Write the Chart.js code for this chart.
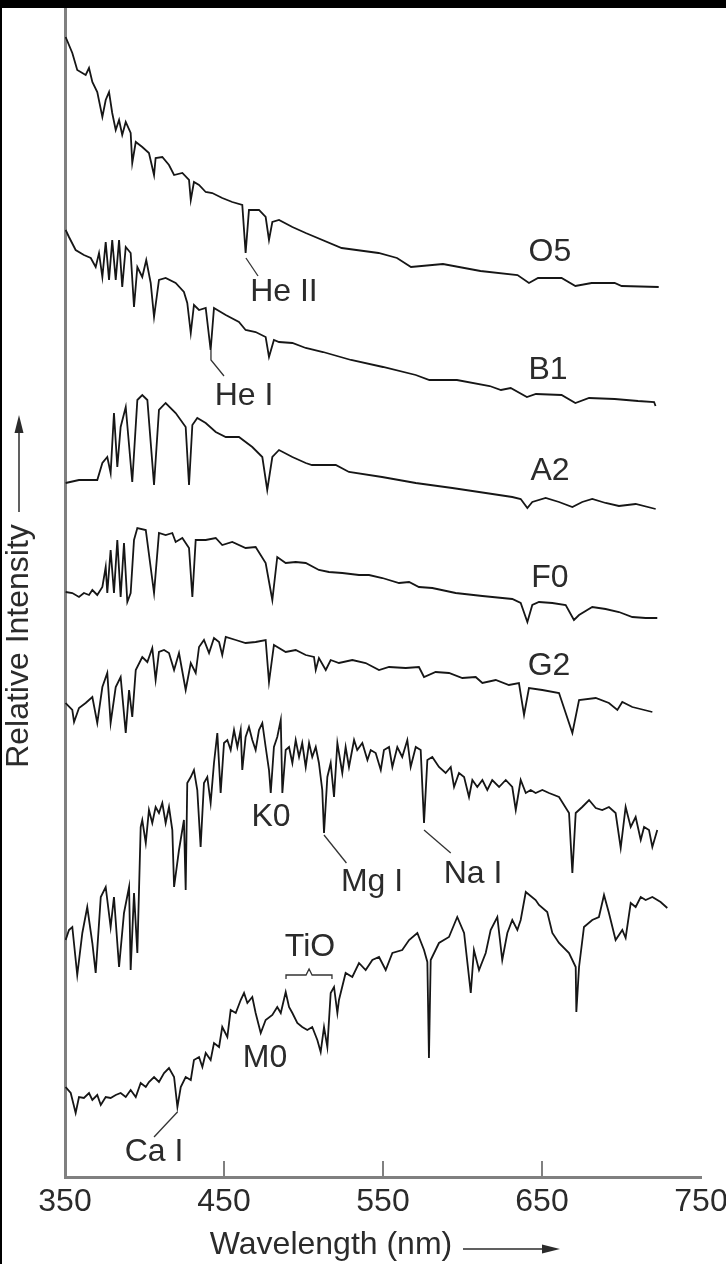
<!DOCTYPE html>
<html>
<head>
<meta charset="utf-8">
<title>Stellar spectra by spectral class</title>
<script src="https://cdn.jsdelivr.net/npm/chart.js@4.4.1/dist/chart.umd.min.js"></script>
<style>
  html, body { margin: 0; padding: 0; background: #000; }
  #frame { position: absolute; left: 2px; top: 8px; width: 724px; height: 1256px; background: #fff; }
  #chart { display: block; }
</style>
</head>
<body>
<div id="frame"><canvas id="chart" width="724" height="1256"></canvas></div>
<script>
// Spectra: wavelength (nm) and relative intensity (arbitrary, stacked offsets)
const o5Wave = [350.4,354.6,357.7,363.0,365.1,367.2,370.3,373.5,375.6,377.7,379.7,381.9,384.0,386.0,388.2,391.3,392.3,394.5,398.6,402.8,406.0,407.0,411.2,415.4,418.6,423.8,428.0,429.1,431.1,434.3,438.5,442.6,448.9,455.2,461.5,463.6,465.7,472.0,476.2,478.3,480.4,484.6,493.0,501.4,524.0,547.2,558.8,567.6,587.7,611.3,634.6,641.8,647.5,662.3,671.0,681.2,695.7,700.1,723.4];
const o5Flux = [114.0,112.4,110.7,110.2,110.9,109.5,108.5,106.0,107.7,108.5,106.4,104.7,105.7,104.2,105.5,104.4,101.4,103.5,103.0,102.4,100.2,101.9,102.0,101.2,100.2,100.4,99.7,97.7,99.5,99.2,98.5,98.4,97.9,97.5,97.2,92.4,96.7,96.7,96.0,93.7,95.5,95.7,95.0,94.4,92.9,92.4,91.9,91.0,91.3,90.6,90.2,89.4,89.9,89.9,89.1,89.4,89.4,89.1,89.0];

const b1Wave = [350.4,352.5,356.7,361.9,366.2,369.3,371.4,373.5,375.6,377.7,379.7,381.9,384.0,386.0,388.2,391.3,393.4,395.5,398.6,401.1,403.9,406.0,409.1,413.3,419.6,424.8,426.9,429.1,431.1,434.3,438.5,441.6,443.7,451.1,459.4,463.6,469.9,476.2,478.3,481.4,484.6,493.0,501.4,512.3,529.9,550.0,570.6,579.2,596.5,617.1,624.2,630.3,640.5,646.2,662.3,671.0,679.6,695.7,710.4,720.5,721.4];
const b1Flux = [94.7,94.0,92.7,92.2,91.9,91.0,92.4,90.0,93.5,89.7,93.7,89.7,93.7,89.0,93.0,92.4,87.0,91.0,90.0,91.7,89.4,86.0,89.7,89.9,89.4,88.5,87.4,84.4,87.2,86.7,86.9,82.7,86.9,86.2,85.5,84.7,84.5,84.0,82.0,83.7,83.5,83.4,82.9,82.5,81.7,81.0,80.2,79.7,79.7,79.1,78.7,78.9,78.0,78.3,78.2,77.4,77.9,77.8,77.6,77.5,77.1];

const a2Wave = [350.4,358.8,370.3,373.5,376.6,378.7,380.8,382.9,385.0,388.2,392.3,395.5,398.6,401.8,406.0,409.1,413.3,419.6,425.9,428.0,430.1,433.2,438.5,444.8,451.1,459.4,467.8,474.1,477.2,480.4,484.6,493.0,501.4,505.3,520.3,528.6,549.4,570.6,593.6,614.6,631.3,636.6,640.8,643.9,652.3,660.7,669.1,675.3,681.6,690.0,698.4,708.9,721.5];
const a2Flux = [69.4,69.7,69.7,71.4,72.0,70.4,76.4,71.0,75.0,77.0,69.5,77.7,78.2,77.7,69.2,76.7,77.4,76.4,75.0,69.2,75.2,75.9,75.4,74.5,74.0,74.0,73.0,72.0,68.7,72.0,72.7,72.0,71.4,71.2,71.2,70.5,70.0,69.4,68.9,68.4,68.0,67.8,66.9,67.5,67.9,67.5,67.0,67.5,67.8,67.4,67.1,67.3,66.8];

const f0Wave = [350.4,354.6,358.8,361.9,365.1,367.2,370.3,373.5,375.6,376.6,378.7,380.8,382.9,385.0,387.1,389.2,391.3,393.4,395.5,400.8,406.0,409.1,413.3,417.5,419.6,423.8,428.0,430.1,432.2,438.5,444.8,448.9,455.2,463.6,469.9,476.2,480.4,483.5,488.8,495.1,501.4,509.7,516.0,524.4,534.9,541.2,549.6,560.1,566.4,572.6,581.0,595.7,612.5,631.3,636.6,640.8,643.9,648.1,656.5,664.9,670.1,673.3,681.6,690.0,698.4,706.8,715.2,722.5];
const f0Flux = [58.5,58.4,58.0,58.4,58.2,58.7,58.2,59.0,61.0,58.4,62.7,58.4,63.7,58.0,63.4,57.5,58.4,63.7,64.9,64.7,58.4,64.4,64.2,64.4,63.5,63.9,62.9,58.0,63.7,63.7,63.9,63.2,63.5,62.9,63.0,61.4,57.7,62.0,61.4,61.5,61.4,60.7,60.5,60.4,60.2,60.2,59.9,59.4,59.5,59.0,58.9,58.4,58.1,57.8,57.4,55.5,57.2,57.5,57.4,57.2,55.7,56.2,57.0,56.8,56.5,56.0,55.9,55.9];

const g2Wave = [350.4,354.6,355.7,358.8,363.0,367.2,370.3,373.5,376.6,378.7,381.9,385.0,388.2,390.3,392.3,394.5,398.6,401.8,404.9,407.0,409.1,412.3,415.4,418.6,421.7,425.9,429.1,432.2,434.3,437.4,440.6,443.7,446.9,448.9,451.1,457.4,463.6,469.9,476.2,478.3,481.4,488.8,495.1,501.4,506.6,507.7,509.7,514.0,517.1,522.3,530.7,539.1,547.5,553.8,564.3,572.6,575.8,583.1,591.5,599.9,608.3,612.5,620.9,629.2,635.5,638.7,641.8,650.2,660.7,669.1,673.3,683.8,692.1,697.4,700.5,706.8,719.4];
const g2Flux = [47.4,46.7,45.5,46.9,47.4,48.0,45.4,49.0,50.4,45.4,49.0,50.0,44.4,48.7,46.0,50.7,52.0,51.5,52.9,49.7,52.5,52.7,52.4,50.7,52.4,48.7,51.4,50.4,53.0,53.7,52.4,53.9,53.5,52.2,54.0,53.7,53.4,53.5,53.7,49.5,53.2,52.5,52.7,52.2,52.0,50.7,51.9,50.7,51.7,51.4,51.7,51.4,50.7,51.0,50.9,51.0,50.0,50.5,50.4,49.9,50.0,49.4,49.7,49.2,49.4,46.2,48.9,48.7,48.4,44.4,47.7,47.9,47.4,46.7,47.5,47.0,46.5];

const k0Wave = [350.4,352.5,354.6,357.7,360.9,364.0,367.2,369.3,372.5,375.6,378.7,380.8,384.0,387.1,390.3,391.3,393.4,395.5,397.6,398.6,400.8,402.8,404.9,407.0,409.1,411.2,413.3,415.4,417.5,418.6,421.7,424.8,425.9,426.9,429.1,431.1,433.2,435.3,437.4,439.5,441.6,443.7,445.8,447.9,450.0,452.1,454.2,456.3,458.4,460.5,461.5,463.6,465.7,467.8,469.9,472.0,474.1,476.2,478.3,479.4,481.4,483.5,485.7,486.7,488.8,490.9,493.0,495.1,497.2,499.2,501.4,503.5,505.5,507.7,509.7,511.8,512.9,515.0,517.1,519.2,521.3,524.4,526.5,528.6,531.8,533.8,537.0,540.2,542.3,545.4,548.6,550.6,553.8,555.9,559.0,562.1,565.3,567.4,570.6,573.7,575.8,577.9,581.0,585.2,589.4,592.6,594.7,597.8,601.0,604.1,606.2,609.3,612.5,615.6,618.7,623.0,627.2,631.3,633.5,636.6,639.8,642.9,646.0,650.2,654.4,660.7,667.0,669.1,671.2,675.3,679.6,683.8,687.9,692.1,696.3,699.5,702.6,705.8,708.9,712.1,714.2,717.3,719.4,722.5];
const k0Flux = [23.7,24.7,25.0,20.2,24.4,27.0,23.4,20.4,28.0,29.0,25.0,28.0,21.0,26.4,29.0,20.7,28.4,22.4,35.0,35.7,33.4,36.7,35.4,37.0,36.4,37.4,35.4,37.0,34.7,29.0,32.7,35.7,28.7,39.4,40.0,40.7,38.7,33.0,39.4,40.0,37.4,41.4,44.4,38.4,43.4,43.7,42.7,44.7,43.0,44.7,40.7,44.0,45.0,43.7,42.7,44.7,45.4,43.0,40.7,38.4,43.0,44.0,45.7,38.4,42.7,43.0,41.4,43.7,42.0,43.4,41.0,43.4,42.0,43.0,41.4,38.7,34.4,40.0,41.4,38.0,43.4,40.4,43.0,41.0,43.7,42.7,43.4,41.7,42.7,42.4,40.7,42.7,43.0,41.0,43.0,42.0,43.7,41.0,43.0,42.7,35.4,41.7,42.0,41.0,40.4,41.0,39.0,40.4,40.0,38.0,39.7,39.0,39.7,38.7,39.7,39.0,39.7,39.0,36.7,39.7,38.4,38.7,38.4,38.7,38.4,38.0,36.4,30.4,36.4,37.0,37.7,36.9,36.7,37.0,36.4,32.9,37.0,35.0,36.0,33.7,35.0,34.7,33.0,34.7];

const m0Wave = [350.4,353.6,356.7,358.8,361.9,365.1,367.2,370.3,372.5,375.6,378.7,381.9,385.0,388.2,391.3,394.5,397.6,400.8,402.8,406.0,409.1,412.3,415.4,418.6,420.7,422.8,425.9,429.1,431.1,434.3,436.4,438.5,441.6,443.7,446.9,448.9,452.1,454.2,457.4,460.5,462.6,464.7,467.8,469.9,473.1,476.2,480.4,483.5,485.7,488.8,490.9,493.0,496.1,499.2,502.4,505.5,508.7,510.8,512.9,515.0,517.1,519.2,521.3,522.3,526.5,530.7,534.9,539.1,543.3,547.5,551.7,555.9,562.1,566.4,571.6,575.8,577.9,578.9,580.0,585.2,591.5,596.7,601.0,605.2,607.2,610.4,614.6,617.7,621.9,625.0,628.2,631.3,634.5,636.6,639.8,646.0,648.1,653.3,656.5,660.7,667.0,671.2,671.6,673.3,676.4,681.6,685.8,689.0,692.1,696.3,700.5,702.6,705.8,708.9,712.1,715.2,719.4,724.6,728.8];
const m0Flux = [9.0,8.4,6.4,8.0,7.9,8.4,7.7,8.2,7.2,8.0,7.9,8.2,8.4,8.0,8.7,8.0,9.4,9.0,9.5,10.0,9.5,10.4,10.9,10.0,7.0,9.0,10.0,9.7,11.7,12.0,11.0,12.4,11.7,13.4,13.0,15.0,14.0,16.7,16.4,17.7,18.4,17.4,18.0,16.4,14.4,15.7,16.2,17.0,16.4,18.5,17.0,16.4,15.4,15.0,14.7,15.0,13.7,12.5,15.0,13.0,18.4,19.0,16.4,17.7,20.4,20.0,21.4,20.7,21.7,22.0,20.7,22.4,22.7,23.7,24.4,22.7,21.5,11.9,21.7,23.4,24.0,26.0,24.4,18.4,22.7,20.7,22.4,24.7,26.0,21.7,24.4,25.7,24.7,25.7,28.5,27.7,27.2,26.5,24.4,23.4,22.4,21.0,16.5,21.0,25.0,25.7,26.0,28.2,26.4,23.7,24.7,23.9,27.4,27.0,28.0,27.7,28.0,27.5,26.9];

const xTicks = [350, 450, 550, 650, 750];
const innerTicks = [450, 550, 650];

// spectral class names and where they sit (wavelength, intensity)
const classNames = ['O5', 'B1', 'A2', 'F0', 'G2', 'K0', 'M0'];
const classWave  = [655.0, 653.8, 655.0, 655.0, 654.4, 479.6, 475.8];
const classLevel = [92.5, 80.7, 70.6, 59.9, 51.1, 36.0, 11.9];

// absorption features
const lineNames = ['He II', 'He I', 'Mg I', 'Na I', 'TiO', 'Ca I'];
const lineWave  = [487.7, 462.6, 543.1, 606.6, 504.1, 406.0];
const lineLevel = [88.5, 78.1, 29.5, 30.3, 23.0, 2.5];

// leader lines from the features to their names
const leaders = [
  [[463.8, 91.9], [471.4, 90.1]],
  [[441.8, 82.7], [441.8, 81.7], [450.0, 80.1]],
  [[512.9, 34.2], [527.0, 31.4]],
  [[575.8, 34.7], [592.6, 32.4]],
  [[420.7, 6.5], [406.0, 4.0]],
  [[489.0, 19.8], [489.0, 20.2], [501.6, 20.2], [503.5, 20.8], [505.4, 20.2], [517.9, 20.2], [517.9, 19.8]]
];

const fontFamily = "'Liberation Sans', Arial, Helvetica, sans-serif";
const inkColor = '#161616';
const textColor = '#2b2b2b';
const axisColor = '#808080';

function pairs(wave, flux) {
  return wave.map((w, i) => ({ x: w, y: flux[i] }));
}

const spectra = [
  [o5Wave, o5Flux], [b1Wave, b1Flux], [a2Wave, a2Flux], [f0Wave, f0Flux],
  [g2Wave, g2Flux], [k0Wave, k0Flux], [m0Wave, m0Flux]
];

const datasets = spectra.map((s, i) => ({
  label: classNames[i],
  data: pairs(s[0], s[1]),
  borderColor: inkColor,
  borderWidth: 1.8,
  borderJoinStyle: 'miter',
  pointRadius: 0,
  tension: 0,
  fill: false
}));

leaders.forEach(seg => {
  datasets.push({
    label: '',
    data: seg.map(p => ({ x: p[0], y: p[1] })),
    borderColor: '#333',
    borderWidth: 1.3,
    pointRadius: 0,
    tension: 0,
    fill: false
  });
});

// names, inward ticks and the two axis titles with their arrows
const textPlugin = {
  id: 'spectraText',
  afterDraw(chart) {
    const { ctx, scales: { x, y } } = chart;
    ctx.save();
    ctx.fillStyle = textColor;
    ctx.font = '32px ' + fontFamily;
    ctx.textAlign = 'center';
    ctx.textBaseline = 'middle';
    classNames.forEach((n, i) => {
      ctx.fillText(n, x.getPixelForValue(classWave[i]), y.getPixelForValue(classLevel[i]));
    });
    lineNames.forEach((n, i) => {
      ctx.fillText(n, x.getPixelForValue(lineWave[i]), y.getPixelForValue(lineLevel[i]));
    });

    // tick marks pointing into the plot
    ctx.strokeStyle = axisColor;
    ctx.lineWidth = 2;
    innerTicks.forEach(v => {
      const px = Math.round(x.getPixelForValue(v));
      ctx.beginPath();
      ctx.moveTo(px, y.bottom);
      ctx.lineTo(px, y.bottom - 16);
      ctx.stroke();
    });

    ctx.strokeStyle = textColor;
    ctx.lineWidth = 1.5;

    // y title
    ctx.save();
    ctx.translate(26, 638);
    ctx.rotate(-Math.PI / 2);
    ctx.textBaseline = 'alphabetic';
    ctx.fillText('Relative Intensity', 0, 0);
    ctx.restore();
    ctx.beginPath();
    ctx.moveTo(17, 504);
    ctx.lineTo(17, 422);
    ctx.stroke();
    ctx.beginPath();
    ctx.moveTo(17, 407);
    ctx.lineTo(12.5, 425);
    ctx.lineTo(21.5, 425);
    ctx.closePath();
    ctx.fill();

    // x title
    ctx.textBaseline = 'alphabetic';
    ctx.fillText('Wavelength (nm)', 329, 1246);
    ctx.beginPath();
    ctx.moveTo(461, 1241);
    ctx.lineTo(545, 1241);
    ctx.stroke();
    ctx.beginPath();
    ctx.moveTo(558, 1241);
    ctx.lineTo(540, 1236.5);
    ctx.lineTo(540, 1245.5);
    ctx.closePath();
    ctx.fill();
    ctx.restore();
  }
};

new Chart(document.getElementById('chart'), {
  type: 'line',
  data: { datasets },
  options: {
    responsive: false,
    animation: false,
    events: [],
    layout: { padding: { left: 0, right: 25, top: 0, bottom: 0 } },
    plugins: { legend: { display: false }, tooltip: { enabled: false } },
    scales: {
      x: {
        type: 'linear',
        min: 350,
        max: 750,
        afterBuildTicks: s => { s.ticks = xTicks.map(v => ({ value: v })); },
        afterFit: s => { s.height = 87; s.paddingLeft = 0; s.paddingRight = 0; },
        grid: { display: false, drawTicks: false },
        border: { display: true, color: axisColor, width: 3 },
        ticks: {
          padding: 6,
          color: textColor,
          maxRotation: 0,
          autoSkip: false,
          font: { family: fontFamily, size: 32 },
          callback: v => String(v)
        }
      },
      y: {
        type: 'linear',
        min: 0,
        max: 116.9,
        afterFit: s => { s.width = 63; s.paddingTop = 0; s.paddingBottom = 0; },
        grid: { display: false, drawTicks: false },
        border: { display: true, color: axisColor, width: 3 },
        ticks: { display: false }
      }
    }
  },
  plugins: [textPlugin]
});
</script>
</body>
</html>
